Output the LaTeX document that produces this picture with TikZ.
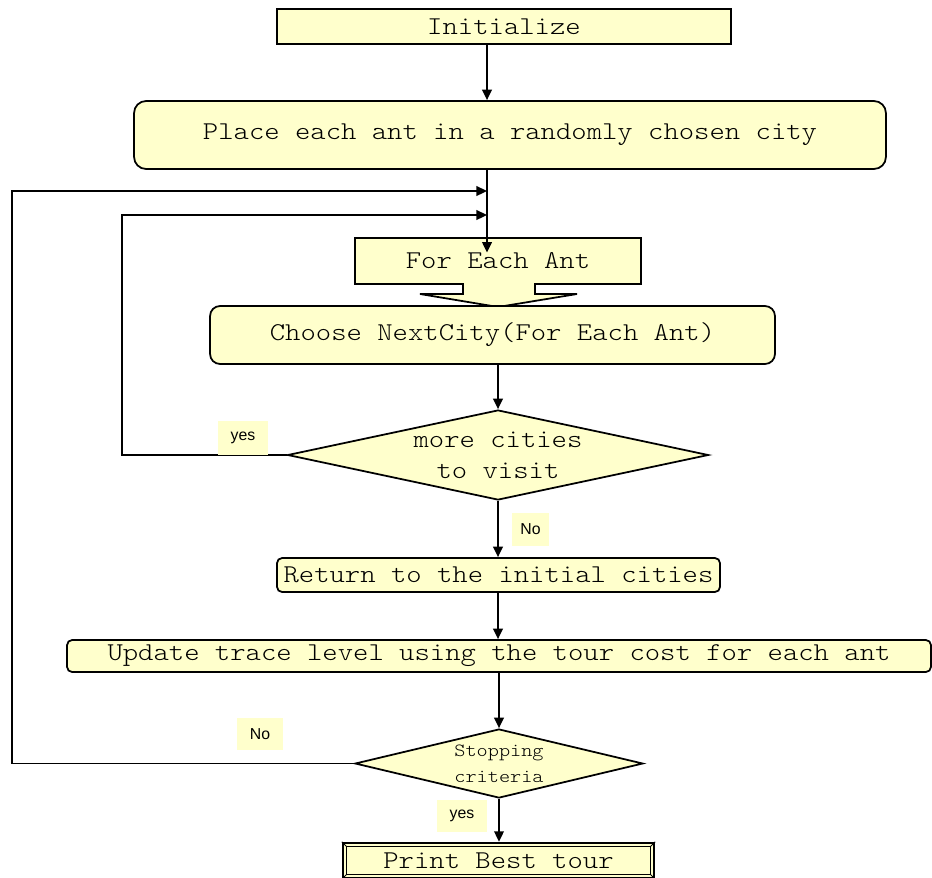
\documentclass[tikz,border=0pt]{standalone}
\usepackage{fontspec}
\setmainfont{Liberation Serif}
\setmonofont{lmmonolt10-regular}[Extension=.otf, FakeStretch=1.14]
\setsansfont{Liberation Sans}
\usetikzlibrary{shapes.geometric,arrows.meta}
\definecolor{boxfill}{HTML}{FFFFCC}
\newcommand{\flowFont}[0]{\fontsize{14.6}{17.6}\selectfont\ttfamily}
\newcommand{\smallFlowFont}[0]{\fontsize{10.6}{14.7}\selectfont\ttfamily}

\begin{document}
\begin{tikzpicture}[x=0.02cm, y=-0.02cm]
  \tikzset{
    box/.style={draw, fill=boxfill, line width=1pt, inner sep=0pt, font=\flowFont, align=center},
    roundbox/.style={box, rounded corners=#1},
    decision/.style={draw, fill=boxfill, diamond, inner sep=0pt, line width=1pt},
    tag/.style={fill=boxfill, inner sep=0pt, font=\sffamily\fontsize{9}{10}\selectfont},
    flow/.style={line width=1pt, -{Triangle[length=6pt, width=5.5pt]}}
  }
  \useasboundingbox (0,0) rectangle (932,877);
  \node[box, minimum width=9.08cm, minimum height=0.70cm] (init) at (504,26.5) {Initialize};
  \node[roundbox=0.24cm, minimum width=15.04cm, minimum height=1.36cm] (place) at (510,135) {Place each ant in a randomly chosen city};
  \draw[fill=boxfill, line width=1pt] (355,238) -- (641,238) -- (641,284) -- (535,284) -- (535,294)
    -- (577,294) -- (498,307) -- (420,294) -- (463,294) -- (463,284) -- (355,284) -- cycle;
  \node[font=\flowFont, inner sep=0pt] (each) at (498,261) {For Each Ant};
  \node[roundbox=0.2cm, minimum width=11.30cm, minimum height=1.16cm] (choose) at (492.5,335) {Choose NextCity(For Each Ant)};
  \node[decision, minimum width=8.42cm, minimum height=1.8cm] (more) at (498,455) {};
  \node[font=\flowFont, align=center, inner sep=0pt] (more-text) at (more) {more cities\\to visit};
  \node[roundbox=0.1cm, minimum width=8.86cm, minimum height=0.68cm] (ret) at (498.5,575) {Return to the initial cities};
  \node[roundbox=0.1cm, minimum width=17.28cm, minimum height=0.64cm] (upd) at (499,656) {Update trace level using the tour cost for each ant};
  \node[decision, minimum width=5.76cm, minimum height=1.38cm] (stop) at (499,763.5) {};
  \node[font=\smallFlowFont, align=center, inner sep=0pt] (stop-text) at (stop) {Stopping\\criteria};
  \node[box, line width=1.4pt, minimum width=6.22cm, minimum height=0.70cm] (print) at (498.5,860.5) {};
  \draw[line width=0.7pt] ([shift={(5,5)}]print.north west) rectangle ([shift={(-5,-5)}]print.south east);
  \draw[line width=0.5pt] (print.north west) -- ++(5,5) (print.north east) -- ++(-5,5)
    (print.south west) -- ++(5,-5) (print.south east) -- ++(-5,-5);
  \node[font=\flowFont, inner sep=0pt] (print-text) at (print) {Print Best tour};
  \coordinate (outer) at (12,191);
  \coordinate (inner) at (122,215);
  \coordinate (top) at (487,191);
  \coordinate (mid) at (487,215);
  \draw[flow] (init.south -| top) -- (place.north -| top);
  \draw[flow] (place.south -| top) -- (each.north -| top |- 0,238);
  \draw[flow] (choose.south -| more) -- (more.north);
  \draw[flow] (more.south) -- (ret.north -| more);
  \draw[flow] (ret.south -| more) -- (upd.north -| more);
  \draw[flow] (upd.south -| stop) -- (stop.north);
  \draw[flow] (stop.south) -- (print.north -| stop);
  \draw[flow] (more.west) -| (inner) -- (mid);
  \draw[flow] (stop.west) -| (outer) -- (top);
  \node[tag, minimum width=1.0cm, minimum height=0.68cm] (yes-more) at (243,438) {yes};
  \node[tag, minimum width=0.74cm, minimum height=0.66cm] (no-more) at (530.5,529.5) {No};
  \node[tag, minimum width=0.92cm, minimum height=0.64cm] (no-stop) at (260,734) {No};
  \node[tag, minimum width=1.0cm, minimum height=0.64cm] (yes-stop) at (462,816) {yes};
\end{tikzpicture}
\end{document}
